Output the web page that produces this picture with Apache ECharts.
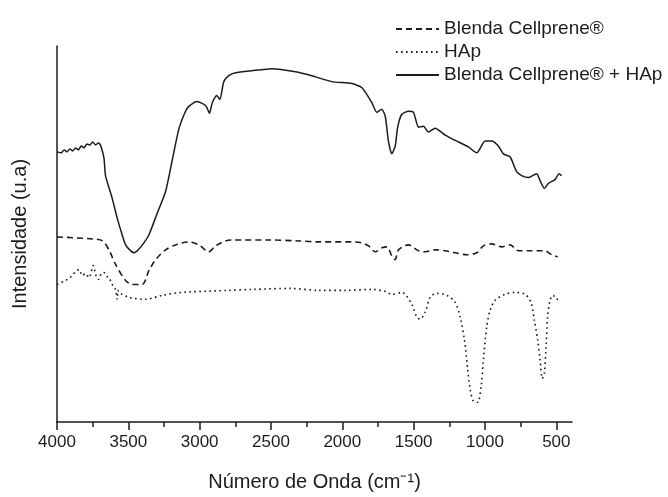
<!DOCTYPE html>
<html>
<head>
<meta charset="utf-8">
<script src="https://cdn.jsdelivr.net/npm/echarts@6/dist/echarts.min.js"></script>
<style>
  html, body { margin: 0; padding: 0; background: #fff; }
  #chart { width: 668px; height: 497px; }
</style>
</head>
<body>
<div id="chart"></div>
<script>
// wavenumber (cm-1) and intensity (a.u.)
const blendaWn = [4000, 3750, 3680, 3636, 3589, 3519, 3473, 3403, 3356, 3309, 3239, 3169, 3076, 3006, 2936, 2889, 2819, 2773, 2516, 2306, 2166, 1933, 1863, 1816, 1769, 1723, 1688, 1653, 1630, 1606, 1536, 1466, 1419, 1349, 1279, 1209, 1128, 1058, 1011, 953, 883, 824, 766, 696, 626, 579, 532, 490];
const blendaVal = [187, 185, 183, 174, 159, 143, 139, 139, 153, 164, 174, 179, 182, 179, 172, 178, 183, 184, 184, 183, 182, 182, 181, 178, 172, 176, 177, 168, 164, 174, 179, 173, 172, 174, 173, 171, 169, 171, 178, 180, 177, 179, 173, 173, 173, 173, 169, 167];

const hapWn = [4000, 3940, 3893, 3870, 3846, 3823, 3800, 3776, 3746, 3725, 3706, 3690, 3671, 3650, 3636, 3613, 3590, 3578, 3572, 3566, 3496, 3379, 3263, 3123, 2796, 2633, 2364, 2166, 1979, 1793, 1699, 1653, 1583, 1513, 1478, 1455, 1419, 1384, 1338, 1268, 1209, 1174, 1144, 1121, 1104, 1081, 1051, 1027, 1011, 988, 964, 929, 859, 789, 719, 678, 654, 631, 614, 598, 584, 572, 561, 544, 521, 498, 463];
const hapVal = [139, 143, 148, 152, 154, 148, 150, 146, 158, 147, 144, 150, 151, 147, 146, 139, 134, 124, 133, 131, 126, 124, 128, 131, 133, 134, 135, 133, 133, 134, 132, 129, 131, 119, 106, 104, 111, 126, 130, 128, 121, 106, 83, 53, 33, 21, 20, 36, 63, 96, 113, 123, 129, 131, 129, 121, 103, 83, 63, 44, 49, 76, 106, 123, 128, 124, 125];

const mixWn = [4000, 3970, 3950, 3930, 3910, 3890, 3870, 3850, 3830, 3810, 3790, 3770, 3750, 3730, 3710, 3700, 3690, 3670, 3660, 3613, 3578, 3543, 3519, 3490, 3460, 3430, 3391, 3356, 3300, 3239, 3193, 3146, 3099, 3076, 3020, 2970, 2950, 2931, 2915, 2901, 2880, 2858, 2831, 2796, 2749, 2634, 2494, 2329, 2214, 2074, 1934, 1864, 1794, 1759, 1724, 1699, 1676, 1653, 1629, 1612, 1583, 1536, 1501, 1466, 1431, 1396, 1349, 1279, 1186, 1116, 1058, 999, 953, 906, 871, 824, 778, 743, 696, 638, 614, 584, 556, 509, 481, 463];
const mixVal = [273, 272, 275, 273, 276, 274, 277, 275, 279, 277, 281, 280, 283, 280, 282, 281, 278, 266, 249, 226, 206, 189, 179, 174, 171, 174, 181, 189, 210, 233, 264, 296, 314, 319, 324, 321, 318, 312, 321, 326, 330, 326, 344, 350, 353, 355, 357, 354, 350, 344, 342, 338, 323, 313, 316, 309, 283, 271, 279, 298, 311, 314, 313, 298, 299, 293, 297, 290, 283, 278, 272, 284, 284, 279, 271, 268, 253, 249, 247, 251, 244, 236, 241, 245, 251, 249];

const majorTicks = [4000, 3500, 3000, 2500, 2000, 1500, 1000, 500];
const minorTicks = [3750, 3250, 2750, 2250, 1750, 1250, 750];

const seriesNames = ['Blenda Cellprene®', 'HAp', 'Blenda Cellprene® + HAp'];

const zip = (xs, ys) => xs.map((x, i) => [x, ys[i]]);

const ink = '#1c1c1c';
const font = 'Liberation Sans, Arial, sans-serif';

const chart = echarts.init(document.getElementById('chart'));

chart.setOption({
  animation: false,
  backgroundColor: '#fff',
  textStyle: { fontFamily: font, color: ink },
  grid: { left: 57, right: 96, top: 46, bottom: 71 },
  legend: {
    orient: 'vertical',
    left: 390,
    top: 14,
    itemWidth: 43,
    itemHeight: 14,
    itemGap: 3,
    data: seriesNames,
    itemStyle: { color: 'rgba(0,0,0,0)', borderWidth: 0, opacity: 0 },
    textStyle: { fontSize: 19, lineHeight: 20, color: ink, fontFamily: font }
  },
  xAxis: [
    {
      type: 'value',
      inverse: true,
      min: 390,
      max: 4000,
      position: 'bottom',
      name: 'Número de Onda (cm⁻¹)',
      nameLocation: 'middle',
      nameGap: 50,
      nameTextStyle: { fontSize: 20, color: ink, fontFamily: font },
      axisLine: { lineStyle: { color: ink, width: 1.5 } },
      axisTick: { show: true, length: 8, customValues: majorTicks, lineStyle: { color: ink, width: 1.5 } },
      axisLabel: {
        customValues: majorTicks,
        formatter: v => String(v),
        fontSize: 17,
        margin: 12,
        color: ink,
        fontFamily: font
      },
      splitLine: { show: false }
    },
    {
      type: 'value',
      inverse: true,
      min: 390,
      max: 4000,
      position: 'bottom',
      axisLine: { show: false },
      axisTick: { show: true, length: 5, customValues: minorTicks, lineStyle: { color: ink, width: 1.5 } },
      axisLabel: { show: false },
      splitLine: { show: false }
    }
  ],
  yAxis: {
    type: 'value',
    min: 0,
    max: 380,
    name: 'Intensidade (u.a)',
    nameLocation: 'middle',
    nameGap: 27,
    nameTextStyle: { fontSize: 20, color: ink, fontFamily: font },
    axisLine: { show: true, lineStyle: { color: ink, width: 1.5 } },
    axisTick: { show: false },
    axisLabel: { show: false },
    splitLine: { show: false }
  },
  series: [
    {
      name: seriesNames[0],
      type: 'line',
      data: zip(blendaWn, blendaVal),
      symbol: 'none',
      smooth: 0.3,
      lineStyle: { color: ink, width: 1.6, type: [6, 4] },
      itemStyle: { color: ink }
    },
    {
      name: seriesNames[1],
      type: 'line',
      data: zip(hapWn, hapVal),
      symbol: 'none',
      smooth: 0.3,
      lineStyle: { color: ink, width: 1.6, type: [1.6, 3.4] },
      itemStyle: { color: ink }
    },
    {
      name: seriesNames[2],
      type: 'line',
      data: zip(mixWn, mixVal),
      symbol: 'none',
      smooth: 0.2,
      lineStyle: { color: ink, width: 1.5 },
      itemStyle: { color: ink }
    }
  ]
});
</script>
</body>
</html>
